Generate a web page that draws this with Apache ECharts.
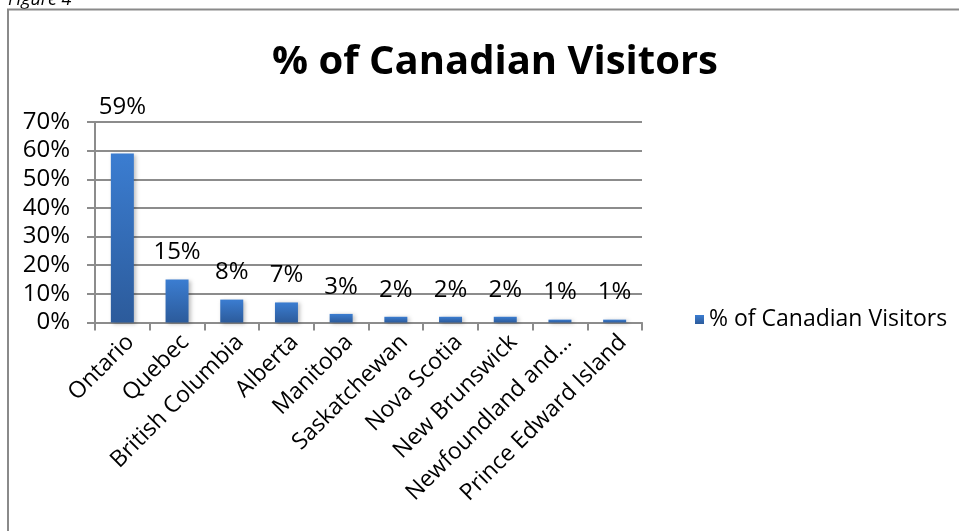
<!DOCTYPE html>
<html>
<head>
<meta charset="utf-8">
<script src="https://cdn.jsdelivr.net/npm/echarts@6/dist/echarts.min.js"></script>
<style>
  html, body { margin: 0; padding: 0; background: #ffffff; }
  #chart { width: 959px; height: 531px; }
</style>
</head>
<body>
<div id="chart"></div>
<script>
// Share of Canadian visitors by province
const provinces = ['Ontario', 'Quebec', 'British Columbia', 'Alberta', 'Manitoba',
  'Saskatchewan', 'Nova Scotia', 'New Brunswick', 'Newfoundland and Labrador', 'Prince Edward Island'];
const visitorShare = [59, 15, 8, 7, 3, 2, 2, 2, 1, 1];
const yTicks = { min: 0, max: 70, interval: 10 };

const seriesName = '% of Canadian Visitors';
const FONT = '"Open Sans", "Noto Sans", sans-serif';
const GRID_GRAY = '#8c8c8c';

const chart = echarts.init(document.getElementById('chart'), null, { renderer: 'canvas' });

const barFill = new echarts.graphic.LinearGradient(0, 0, 0, 1, [
  { offset: 0, color: '#3b7dd1' },
  { offset: 1, color: '#2c5b9b' }
]);

// Ontario's label sits a little higher than the rest
const barData = visitorShare.map((v, i) => {
  const item = { value: v };
  if (i === 0) item.label = { offset: [0, -19] };
  return item;
});

chart.setOption({
  animation: false,
  backgroundColor: '#ffffff',
  title: {
    text: seriesName,
    left: 490,
    textAlign: 'center',
    top: 38,
    textStyle: { fontFamily: FONT, fontWeight: 'bold', fontSize: 40, color: '#000000' }
  },
  graphic: [
    {
      type: 'text', silent: true,
      style: {
        x: 8, y: 9, text: 'Figure 4',
        fontFamily: FONT, fontStyle: 'italic', fontSize: 18,
        fill: '#000000', verticalAlign: 'bottom'
      }
    },
    {
      type: 'polyline', silent: true,
      shape: { points: [[8, 531], [8, 9.5], [959, 9.5]] },
      style: { stroke: '#8a8a8a', lineWidth: 2, fill: null }
    }
  ],
  legend: {
    data: [seriesName],
    left: 690,
    top: 303,
    itemWidth: 9,
    itemHeight: 9,
    itemGap: 4,
    icon: 'rect',
    textStyle: { fontFamily: FONT, fontSize: 23, color: '#000000' }
  },
  grid: { left: 95, right: 317, top: 122, bottom: 208.5, containLabel: false },
  xAxis: {
    type: 'category',
    data: provinces,
    boundaryGap: true,
    axisLine: { show: true, lineStyle: { color: GRID_GRAY, width: 2 } },
    axisTick: { show: true, length: 8, lineStyle: { color: GRID_GRAY, width: 2 } },
    axisLabel: {
      rotate: 45,
      interval: 0,
      margin: 8,
      verticalAlign: 'top',
      fontFamily: FONT,
      fontSize: 23,
      color: '#000000',
      formatter: v => v.length > 20 ? v.slice(0, 16) + '…' : v
    }
  },
  yAxis: {
    type: 'value',
    min: yTicks.min,
    max: yTicks.max,
    interval: yTicks.interval,
    axisLine: { show: true, lineStyle: { color: GRID_GRAY, width: 2 } },
    axisTick: { show: true, length: 8, lineStyle: { color: GRID_GRAY, width: 2 } },
    splitLine: { show: true, lineStyle: { color: GRID_GRAY, width: 2 } },
    axisLabel: {
      margin: 25,
      fontFamily: FONT,
      fontSize: 24,
      color: '#000000',
      formatter: '{value}%'
    }
  },
  series: [{
    name: seriesName,
    type: 'bar',
    data: barData,
    barWidth: 23,
    itemStyle: {
      color: barFill,
      shadowColor: 'rgba(0,0,0,0.25)',
      shadowBlur: 4,
      shadowOffsetX: 2,
      shadowOffsetY: 1
    },
    label: {
      show: true,
      position: 'top',
      distance: 15,
      fontFamily: FONT,
      fontSize: 24,
      color: '#000000',
      formatter: p => p.value + '%'
    }
  }]
});
</script>
</body>
</html>
